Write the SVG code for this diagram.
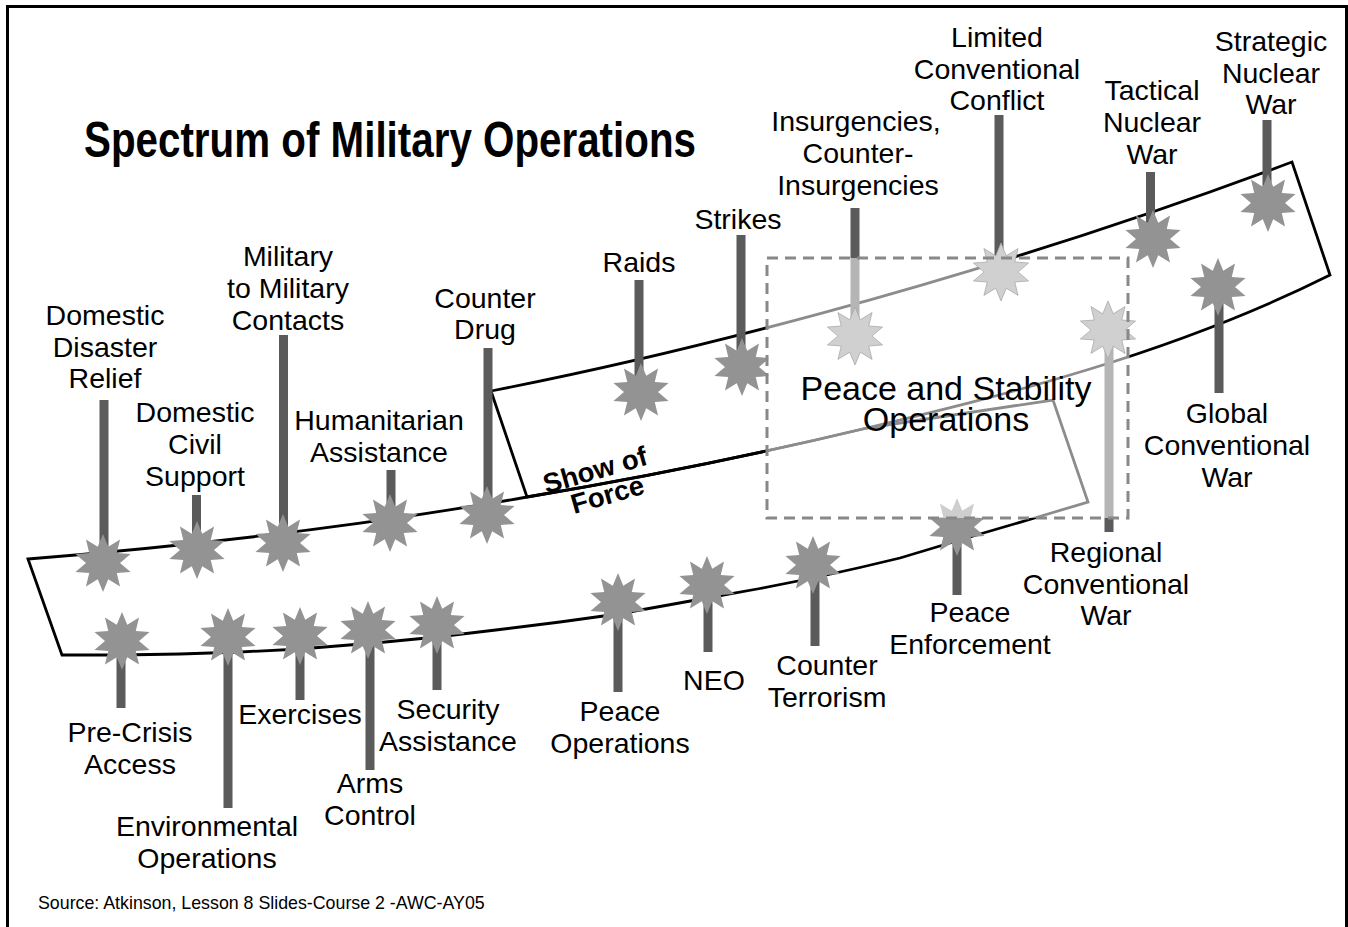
<svg xmlns="http://www.w3.org/2000/svg" width="1348" height="927" viewBox="0 0 1348 927">
<style>
.lbl{font-family:"Liberation Sans",Arial,sans-serif;font-size:28.5px;text-anchor:middle;fill:#000}
.star{fill:#939393}
.star-lt{fill:#d0d0d0;stroke:#aaa;stroke-width:0.8}
.bar{stroke:#5b5b5b;stroke-width:9;fill:none}
.band{fill:none;stroke:#000;stroke-width:2.8;stroke-linejoin:miter}
</style>
<defs>
<polygon id="star" points="0,-29 5.25,-16.17 17.05,-23.46 13.75,-9.99 27.58,-8.96 17,0 27.58,8.96 13.75,9.99 17.05,23.46 5.25,16.17 0,29 -5.25,16.17 -17.05,23.46 -13.75,9.99 -27.58,8.96 -17,0 -27.58,-8.96 -13.75,-9.99 -17.05,-23.46 -5.25,-16.17"/>
</defs>
<rect x="0" y="0" width="1348" height="927" fill="#fff"/>
<rect x="7.5" y="6.5" width="1339" height="940" fill="none" stroke="#000" stroke-width="3"/>
<text x="84" y="157" font-family="'Liberation Sans',Arial,sans-serif" font-weight="bold" font-size="50" textLength="612" lengthAdjust="spacingAndGlyphs">Spectrum of Military Operations</text>
<text x="38" y="909" font-family="'Liberation Sans',Arial,sans-serif" font-size="17.8">Source: Atkinson, Lesson 8 Slides-Course 2 -AWC-AY05</text>

<g id="bands">
<path class="band" d="M28,559 Q300,537 527,497 Q700,468 867,428 L1053,400 L1088,502 L1033,518.5 L980,534 L940,546 L900,558 L860,567.5 L813,578 L760,588.5 L707,598 L660,606.5 L618,614 L560,622 L500,629.5 L437,637 L380,642.5 L300,649 L240,652 L180,654 L120,655 L62,655 Z"/>
<path class="band" d="M491,391 C650,360 950,290 1292,162 L1330,275 C1170,355 1000,396 867,428 Q700,468 527,497 Z"/>
</g>

<g id="connectors">
<line class="bar" x1="104" y1="400" x2="104" y2="563"/>
<line class="bar" x1="196.5" y1="495" x2="196.5" y2="550"/>
<line class="bar" x1="283.5" y1="335" x2="283.5" y2="543"/>
<line class="bar" x1="391" y1="470" x2="391" y2="523"/>
<line class="bar" x1="488" y1="348" x2="488" y2="515"/>
<line class="bar" x1="639" y1="280" x2="639" y2="392"/>
<line class="bar" x1="741" y1="235" x2="741" y2="367"/>
<line class="bar" x1="855" y1="208" x2="855" y2="336"/>
<line class="bar" x1="999" y1="115" x2="999" y2="272"/>
<line class="bar" x1="1150.5" y1="172" x2="1150.5" y2="239"/>
<line class="bar" x1="1267" y1="120" x2="1267" y2="203"/>
<line class="bar" x1="121" y1="641" x2="121" y2="708"/>
<line class="bar" x1="228" y1="637" x2="228" y2="808"/>
<line class="bar" x1="300" y1="636" x2="300" y2="700"/>
<line class="bar" x1="370" y1="630" x2="370" y2="770"/>
<line class="bar" x1="437" y1="625" x2="437" y2="690"/>
<line class="bar" x1="618" y1="602" x2="618" y2="692"/>
<line class="bar" x1="708" y1="585" x2="708" y2="652"/>
<line class="bar" x1="815" y1="565" x2="815" y2="646"/>
<line class="bar" x1="957" y1="527" x2="957" y2="595"/>
<line class="bar" x1="1219" y1="287" x2="1219" y2="393"/>
<line class="bar" x1="1109" y1="330" x2="1109" y2="532"/>
</g>

<g id="n-disaster"><use href="#star" class="star" x="103" y="563"/><text class="lbl"><tspan x="105" y="325">Domestic</tspan><tspan x="105" y="357">Disaster</tspan><tspan x="105" y="388">Relief</tspan></text></g>
<g id="n-civil"><use href="#star" class="star" x="197" y="550"/><text class="lbl"><tspan x="195" y="422">Domestic</tspan><tspan x="195" y="454">Civil</tspan><tspan x="195" y="486">Support</tspan></text></g>
<g id="n-mil"><use href="#star" class="star" x="283" y="543"/><text class="lbl"><tspan x="288" y="266">Military</tspan><tspan x="288" y="298">to Military</tspan><tspan x="288" y="330">Contacts</tspan></text></g>
<g id="n-humanitarian"><use href="#star" class="star" x="390" y="523"/><text class="lbl"><tspan x="379" y="430">Humanitarian</tspan><tspan x="379" y="462">Assistance</tspan></text></g>
<g id="n-drug"><use href="#star" class="star" x="487" y="515"/><text class="lbl"><tspan x="485" y="308">Counter</tspan><tspan x="485" y="339">Drug</tspan></text></g>
<g id="n-raids"><use href="#star" class="star" x="641" y="392"/><text class="lbl" x="639" y="272">Raids</text></g>
<g id="n-strikes"><use href="#star" class="star" x="742" y="367"/><text class="lbl" x="738" y="229">Strikes</text></g>
<g id="n-tactical"><use href="#star" class="star" x="1153" y="239"/><text class="lbl"><tspan x="1152" y="100">Tactical</tspan><tspan x="1152" y="132">Nuclear</tspan><tspan x="1152" y="164">War</tspan></text></g>
<g id="n-strategic"><use href="#star" class="star" x="1268" y="203"/><text class="lbl"><tspan x="1271" y="51">Strategic</tspan><tspan x="1271" y="83">Nuclear</tspan><tspan x="1271" y="114">War</tspan></text></g>
<g id="n-precrisis"><use href="#star" class="star" x="122" y="641"/><text class="lbl"><tspan x="130" y="742">Pre-Crisis</tspan><tspan x="130" y="774">Access</tspan></text></g>
<g id="n-env"><use href="#star" class="star" x="228" y="637"/><text class="lbl"><tspan x="207" y="836">Environmental</tspan><tspan x="207" y="868">Operations</tspan></text></g>
<g id="n-exercises"><use href="#star" class="star" x="300" y="636"/><text class="lbl" x="300" y="724">Exercises</text></g>
<g id="n-arms"><use href="#star" class="star" x="368" y="630"/><text class="lbl"><tspan x="370" y="793">Arms</tspan><tspan x="370" y="825">Control</tspan></text></g>
<g id="n-security"><use href="#star" class="star" x="437" y="625"/><text class="lbl"><tspan x="448" y="719">Security</tspan><tspan x="448" y="751">Assistance</tspan></text></g>
<g id="n-peaceops"><use href="#star" class="star" x="618" y="602"/><text class="lbl"><tspan x="620" y="721">Peace</tspan><tspan x="620" y="753">Operations</tspan></text></g>
<g id="n-neo"><use href="#star" class="star" x="707" y="585"/><text class="lbl" x="714" y="690">NEO</text></g>
<g id="n-terrorism"><use href="#star" class="star" x="813" y="565"/><text class="lbl"><tspan x="827" y="675">Counter</tspan><tspan x="827" y="707">Terrorism</tspan></text></g>
<g id="n-enforcement"><use href="#star" class="star" x="957" y="527"/><text class="lbl"><tspan x="970" y="622">Peace</tspan><tspan x="970" y="654">Enforcement</tspan></text></g>
<g id="n-global"><use href="#star" class="star" x="1218" y="287"/><text class="lbl"><tspan x="1227" y="423">Global</tspan><tspan x="1227" y="455">Conventional</tspan><tspan x="1227" y="487">War</tspan></text></g>

<g id="show-of-force" transform="translate(598,480) rotate(-16)">
<text font-family="'Liberation Sans',Arial,sans-serif" font-weight="bold" font-size="27.5" text-anchor="middle"><tspan x="0" y="-1">Show of</tspan><tspan x="5" y="26">Force</tspan></text>
</g>

<rect id="overlay" x="767" y="258" width="361" height="260" fill="#fff" fill-opacity="0.55"/>

<g id="n-insurgencies"><use href="#star" class="star-lt" x="855" y="336"/><text class="lbl"><tspan x="856" y="131">Insurgencies,</tspan><tspan x="858" y="163">Counter-</tspan><tspan x="858" y="195">Insurgencies</tspan></text></g>
<g id="n-limited"><use href="#star" class="star-lt" x="1001" y="272"/><text class="lbl"><tspan x="997" y="47">Limited</tspan><tspan x="997" y="79">Conventional</tspan><tspan x="997" y="110">Conflict</tspan></text></g>
<g id="n-regional"><use href="#star" class="star-lt" x="1108" y="330"/><text class="lbl"><tspan x="1106" y="562">Regional</tspan><tspan x="1106" y="594">Conventional</tspan><tspan x="1106" y="625">War</tspan></text></g>

<g id="peace-stability">
<rect x="767" y="258" width="361" height="260" fill="none" stroke="#888" stroke-width="3" stroke-dasharray="11 7"/>
<text font-family="'Liberation Sans',Arial,sans-serif" font-size="34" text-anchor="middle"><tspan x="946" y="400">Peace and Stability</tspan><tspan x="946" y="431">Operations</tspan></text>
</g>
</svg>
